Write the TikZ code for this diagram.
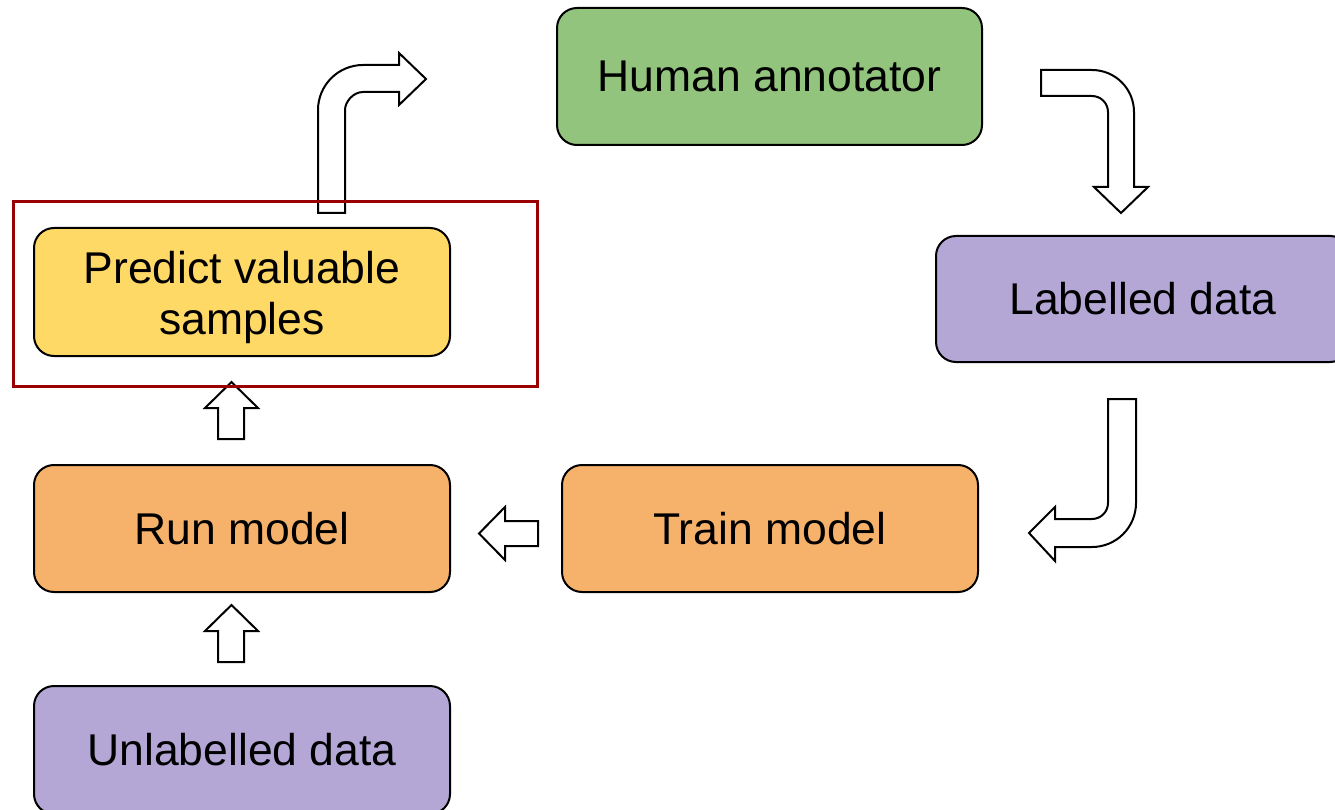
\documentclass[tikz,border=0pt]{standalone}
\usepackage{fontspec}
\setmainfont{Liberation Sans}
\definecolor{boxgreen}{HTML}{93C47D}
\definecolor{boxpurple}{HTML}{B4A7D6}
\definecolor{boxyellow}{HTML}{FFD966}
\definecolor{boxorange}{HTML}{F6B26B}
\definecolor{framered}{HTML}{990000}
\begin{document}
\begin{tikzpicture}[x=1pt,y=-1pt,
  stagebox/.style={draw=black, line width=2pt, rounded corners=20pt,
    inner sep=0pt, align=center, font=\fontsize{44.5}{50.3}\selectfont},
  stagetext/.style={inner sep=0pt, align=center, font=\fontsize{44.5}{50.3}\selectfont},
  blockarrow/.style={draw=black, fill=white, line width=2pt, line join=miter},
  focusframe/.style={draw=framered, line width=3pt}]
\useasboundingbox (0,0) rectangle (1335,810);
\clip (0,0) rectangle (1335,810);

% process stages
\node[stagebox, fill=boxgreen, minimum width=425pt, minimum height=137pt]
  (ann) at (769.5,76.5) {Human annotator};
\node[stagebox, fill=boxpurple, minimum width=414pt, minimum height=126pt]
  (lab) at (1143,299) {Labelled data};
\node[stagebox, fill=boxyellow, minimum width=416pt, minimum height=128pt]
  (pred) at (242,292) {};
\node[stagetext] (predtext) at ([yshift=-5.5pt]pred.center)
  {Predict valuable\\samples};
\node[stagebox, fill=boxorange, minimum width=416pt, minimum height=127pt]
  (run) at (242,528.5) {Run model};
\node[stagebox, fill=boxorange, minimum width=416pt, minimum height=127pt]
  (train) at (770,528.5) {Train model};
\node[stagebox, fill=boxpurple, minimum width=416pt, minimum height=128pt]
  (unl) at (242,750) {Unlabelled data};

% bent arrow: prediction -> annotator
\draw[blockarrow] (318,213) -- (318,110)
  .. controls (318,85.2) and (338.2,65) .. (363,65)
  -- (399,65) -- (399,53) -- (426,79) -- (399,105) -- (399,92) -- (363,92)
  .. controls (353.1,92) and (345,101.9) .. (345,110)
  -- (345,213) -- cycle;

% bent arrow: annotator -> labelled data
\draw[blockarrow] (1041,70) -- (1092,70)
  .. controls (1115.2,70) and (1134,88.8) .. (1134,112)
  -- (1134,187) -- (1148,187) -- (1121,213) -- (1094,187) -- (1108,187)
  -- (1108,112) .. controls (1108,103.2) and (1100.8,96) .. (1092,96)
  -- (1041,96) -- cycle;

% bent arrow: labelled data -> training
\draw[blockarrow] (1108,399) -- (1136,399) -- (1136,503)
  .. controls (1136,527.3) and (1116.3,547) .. (1092,547)
  -- (1055,547) -- (1055,561) -- (1029,533) -- (1055,507) -- (1055,519)
  -- (1092,519) .. controls (1100.8,519) and (1108,511.8) .. (1108,503)
  -- cycle;

% straight arrow: training -> run
\draw[blockarrow] (538,521) -- (505,521) -- (505,507) -- (479,533.5)
  -- (505,560) -- (505,546) -- (538,546) -- cycle;

% straight arrow: run -> prediction
\draw[blockarrow] (218,439) -- (218,408) -- (205,408) -- (231.5,382)
  -- (258,408) -- (244,408) -- (244,439) -- cycle;

% straight arrow: unlabelled data -> run
\draw[blockarrow] (218,662) -- (218,631) -- (205,631) -- (231.5,605)
  -- (258,631) -- (244,631) -- (244,662) -- cycle;

% highlight frame round the prediction step
\draw[focusframe] (13,202) rectangle (537,386);
\end{tikzpicture}
\end{document}
